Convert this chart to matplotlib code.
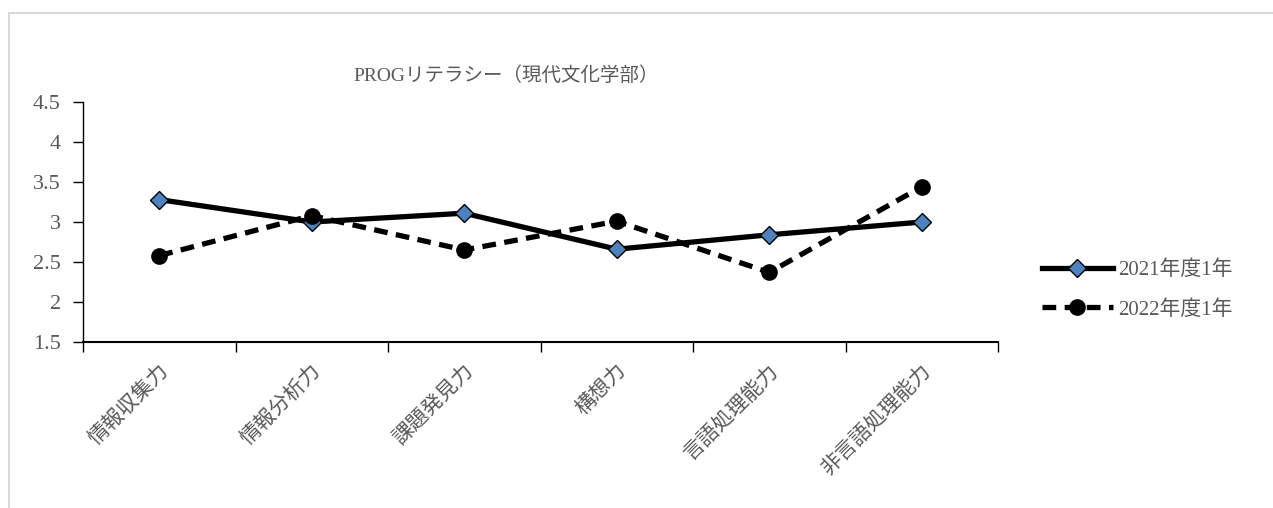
import matplotlib
matplotlib.use('Agg')
import matplotlib.pyplot as plt
from matplotlib.lines import Line2D

plt.rcParams['font.family'] = ['Liberation Serif', 'Noto Sans CJK JP', 'DejaVu Sans']

categories = ['情報収集力', '情報分析力', '課題発見力', '構想力', '言語処理能力', '非言語処理能力']
y2021 = [3.28, 3.00, 3.11, 2.66, 2.84, 3.00]
y2022 = [2.58, 3.08, 2.65, 3.01, 2.37, 3.44]
labels = ['2021年度1年', '2022年度1年']
title = 'PROGリテラシー（現代文化学部）'

text_color = '#595959'
W, H = 1273, 508

fig = plt.figure(figsize=(W / 100, H / 100), dpi=100)
ax = fig.add_axes([83 / W, (H - 342) / H, (998 - 83) / W, 240 / H])

x = list(range(len(categories)))
ax.plot(x, y2021, color='black', linewidth=3.8, linestyle='-',
        marker='D', markersize=9, markerfacecolor='#4F81BD',
        markeredgecolor='black', markeredgewidth=1, label=labels[0], zorder=3)
ax.plot(x, y2022, color='black', linewidth=3.8, linestyle=(0, (2.6, 1.6)),
        marker='o', markersize=11, markerfacecolor='black',
        markeredgecolor='black', label=labels[1], zorder=3)

ax.set_xlim(-0.5, len(categories) - 0.5)
ax.set_ylim(1.5, 4.5)
ax.set_yticks([1.5, 2, 2.5, 3, 3.5, 4, 4.5])
ax.set_yticklabels(['1.5', '2', '2.5', '3', '3.5', '4', '4.5'])

# ticks between categories, labels at category centres
ax.set_xticks([i - 0.5 for i in range(len(categories) + 1)])
ax.set_xticklabels([])
ax.set_xticks(x, minor=True)
ax.set_xticklabels(categories, minor=True, rotation=45, ha='right',
                   rotation_mode='anchor', fontsize=15, color=text_color)
ax.tick_params(axis='x', which='minor', length=0, pad=14)
ax.tick_params(axis='x', which='major', length=7, width=1, direction='out')
ax.tick_params(axis='y', length=7, width=1, direction='out',
               labelsize=16, labelcolor=text_color, pad=9)

for s in ['top', 'right']:
    ax.spines[s].set_visible(False)
ax.spines['left'].set_linewidth(1)
ax.spines['bottom'].set_linewidth(1.5)

fig.text(506 / W, (H - 76) / H, title, ha='center', va='center',
         fontsize=14, color=text_color)

fig.legend(loc='center left', bbox_to_anchor=(1023 / W, (H - 290) / H),
           frameon=False, fontsize=15, handlelength=3.4, labelspacing=0.95,
           handletextpad=0.25, labelcolor=text_color)

# light chart-area border (top and left visible)
fig.add_artist(Line2D([9 / W, 1], [(H - 13) / H, (H - 13) / H],
                      color='#D9D9D9', linewidth=1.5, transform=fig.transFigure))
fig.add_artist(Line2D([9 / W, 9 / W], [0, (H - 13) / H],
                      color='#D9D9D9', linewidth=1.5, transform=fig.transFigure))

fig.savefig('out.png', dpi=100, facecolor='white')
